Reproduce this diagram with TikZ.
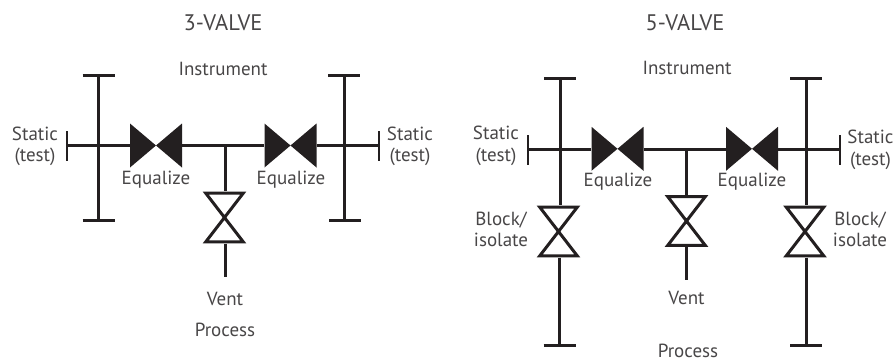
\documentclass[tikz,border=0pt]{standalone}
\usepackage{fontspec}
\setmainfont{PT Sans}
\definecolor{ink}{HTML}{231F20}
\definecolor{txt}{HTML}{484647}
\tikzset{
  x=1pt,y=-1pt,
  pipe/.style={draw=ink,line width=3pt},
  lab/.style={text=txt,font=\fontsize{19}{21.5}\selectfont,align=center,inner sep=0pt},
  title/.style={text=txt,font=\fontsize{22.5}{26}\selectfont,inner sep=0pt},
  valveh/.style={inner sep=0pt,minimum width=52pt,minimum height=44pt,path picture={
    \fill[ink] (path picture bounding box.north west) -- (path picture bounding box.south east)
      -- (path picture bounding box.north east) -- (path picture bounding box.south west) -- cycle;}},
  valvev/.style={inner sep=0pt,minimum width=50pt,minimum height=52pt,path picture={
    \draw[ink,line width=3pt,miter limit=10] ([shift={(6.2pt,-1.6pt)}]path picture bounding box.north west)
      -- ([shift={(-6.2pt,-1.6pt)}]path picture bounding box.north east)
      -- ([shift={(6.2pt,1.6pt)}]path picture bounding box.south west)
      -- ([shift={(-6.2pt,1.6pt)}]path picture bounding box.south east) -- cycle;}},
}
\begin{document}
\begin{tikzpicture}
\useasboundingbox (0,0) rectangle (895,362);
% ---------- 3-valve
\node[title] (t3) at (223,23) {3-VALVE};
\node[lab] (i3) at (223,69) {Instrument};
\node[lab] (sl3) at (35,146.5) {Static\\(test)};
\node[lab] (sr3) at (410,146.5) {Static\\(test)};
\node[lab] (el3) at (156,180) {Equalize};
\node[lab] (er3) at (291,180) {Equalize};
\node[lab] (vt3) at (225,299) {Vent};
\node[lab] (p3) at (225,330) {Process};
\node[valveh] (a1) at (156,145.5) {};
\node[valveh] (a2) at (290.5,145.5) {};
\node[valvev] (a3) at (224.5,217.5) {};
\coordinate (lt3) at (98.7,75.5); \coordinate (lb3) at (98.7,220.5);
\coordinate (rt3) at (344,75.5);  \coordinate (rb3) at (344,220.5);
\coordinate (sle3) at (67,145.8);   \coordinate (sre3) at (379,145.8);
\coordinate (j3) at (225,145.8);    \coordinate (ve3) at (225,277);
\draw[pipe] (lt3) -- (lb3);
\draw[pipe] (rt3) -- (rb3);
\draw[pipe] ([xshift=-16pt]lt3) -- ([xshift=16pt]lt3);
\draw[pipe] ([xshift=-16pt]lb3) -- ([xshift=16pt]lb3);
\draw[pipe] ([xshift=-16pt]rt3) -- ([xshift=16pt]rt3);
\draw[pipe] ([xshift=-15pt]rb3) -- ([xshift=17pt]rb3);
\draw[pipe,line width=2.6pt] ([yshift=-15pt]sle3) -- ([yshift=15pt]sle3);
\draw[pipe,line width=2.6pt] ([yshift=-15pt]sre3) -- ([yshift=15pt]sre3);
\draw[pipe] (sle3) -- (sle3 -| a1.west);
\draw[pipe] (j3 -| a1.east) -- (j3 -| a2.west);
\draw[pipe] (j3 -| a2.east) -- (sre3);
\draw[pipe] (j3) -- (j3 |- a3.north);
\draw[pipe] (j3 |- a3.south) -- (ve3);
% ---------- 5-valve
\node[title] (t5) at (685,23) {5-VALVE};
\node[lab] (i5) at (687,68) {Instrument};
\node[lab] (sl5) at (496,146) {Static\\(test)};
\node[lab] (sr5) at (870.5,150) {Static\\(test)};
\node[lab] (el5) at (618,182) {Equalize};
\node[lab] (er5) at (752,182) {Equalize};
\node[lab] (bl5) at (501,229.5) {Block/\\isolate};
\node[lab] (br5) at (860,229.5) {Block/\\isolate};
\node[lab] (vt5) at (686.5,298) {Vent};
\node[lab] (p5) at (688,351) {Process};
\node[valveh] (b1) at (617.5,148.8) {};
\node[valveh] (b2) at (752,148.8) {};
\node[valvev] (b3) at (686.5,221) {};
\node[valvev] (b4) at (558.5,231.5) {};
\node[valvev] (b5) at (805,231.5) {};
\coordinate (lt5) at (560,78.5);  \coordinate (lb5) at (559.5,345);
\coordinate (rt5) at (806,78.5);  \coordinate (rb5) at (806,345);
\coordinate (sle5) at (528,149.5);\coordinate (sre5) at (840,149.5);
\coordinate (j5) at (686.5,149.5);\coordinate (ve5) at (686.5,280);
\draw[pipe] (lt5) -- (lt5 |- b4.north);
\draw[pipe] (lb5 |- b4.south) -- (lb5);
\draw[pipe] (rt5) -- (rt5 |- b5.north);
\draw[pipe] (rb5 |- b5.south) -- (rb5);
\draw[pipe] ([xshift=-16pt]lt5) -- ([xshift=16pt]lt5);
\draw[pipe] ([xshift=-16pt]lb5) -- ([xshift=16pt]lb5);
\draw[pipe] ([xshift=-16pt]rt5) -- ([xshift=16pt]rt5);
\draw[pipe] ([xshift=-16pt]rb5) -- ([xshift=16pt]rb5);
\draw[pipe,line width=2.6pt] ([yshift=-15pt]sle5) -- ([yshift=15pt]sle5);
\draw[pipe,line width=2.6pt] ([yshift=-15pt]sre5) -- ([yshift=15pt]sre5);
\draw[pipe] (sle5) -- (sle5 -| b1.west);
\draw[pipe] (j5 -| b1.east) -- (j5 -| b2.west);
\draw[pipe] (j5 -| b2.east) -- (sre5);
\draw[pipe] (j5) -- (j5 |- b3.north);
\draw[pipe] (j5 |- b3.south) -- (ve5);
\end{tikzpicture}
\end{document}
